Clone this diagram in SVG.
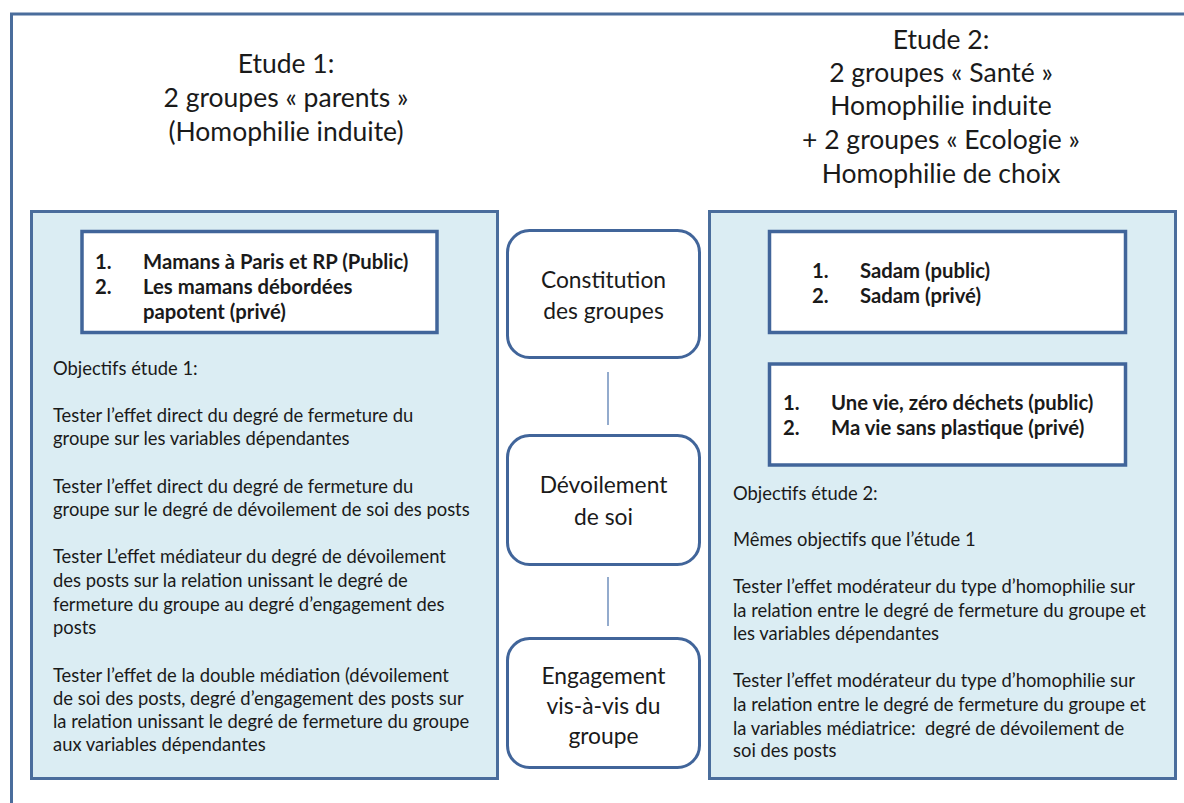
<svg xmlns="http://www.w3.org/2000/svg" width="1184" height="803" viewBox="0 0 1184 803">
<style>
.frame{fill:none;stroke:#4a6d9c;stroke-width:3}
.panel{fill:#dbedf3;stroke:#4a6d9c;stroke-width:3}
.box{fill:#ffffff;stroke:#41659a;stroke-width:3.5}
.step{fill:#ffffff;stroke:#41659a;stroke-width:3}
.conn{stroke:#6f8fbc;stroke-width:1.5}
text{font-family:Lato,"Liberation Sans",sans-serif;fill:#1a1a1a}
.title{font-size:26.5px;text-anchor:middle}
.bold{font-size:20.3px;font-weight:bold}
.body{font-size:18.4px}
.mid{font-size:22.8px;text-anchor:middle}
</style>
<rect width="1184" height="803" fill="#ffffff"/>
<path class="frame" d="M11.5,810 V14 H1190"/>
<g id="title1">
<text class="title" x="286" y="73">Etude 1:</text>
<text class="title" x="286" y="107">2 groupes « parents »</text>
<text class="title" x="286" y="140.5">(Homophilie induite)</text>
</g>
<g id="title2">
<text class="title" x="941" y="49">Etude 2:</text>
<text class="title" x="941" y="82">2 groupes « Santé »</text>
<text class="title" x="941" y="115">Homophilie induite</text>
<text class="title" x="941" y="148.5">+ 2 groupes « Ecologie »</text>
<text class="title" x="941" y="182.5">Homophilie de choix</text>
</g>
<g id="panel1">
<rect class="panel" x="31.5" y="211.5" width="466" height="567"/>
<g id="groups1">
<rect class="box" x="82" y="231.5" width="355" height="101"/>
<text class="bold" x="95" y="268.5">1.</text>
<text class="bold" x="143" y="268.5">Mamans à Paris et RP (Public)</text>
<text class="bold" x="95" y="293.5">2.</text>
<text class="bold" x="143" y="293.5">Les mamans débordées</text>
<text class="bold" x="143" y="318.5">papotent (privé)</text>
</g>
<g id="obj1">
<text class="body" x="53" y="375">Objectifs étude 1:</text>
<text class="body" x="53" y="421.5">Tester l’effet direct du degré de fermeture du</text>
<text class="body" x="53" y="445">groupe sur les variables dépendantes</text>
<text class="body" x="53" y="492.5">Tester l’effet direct du degré de fermeture du</text>
<text class="body" x="53" y="516">groupe sur le degré de dévoilement de soi des posts</text>
<text class="body" x="53" y="563">Tester L’effet médiateur du degré de dévoilement</text>
<text class="body" x="53" y="586.5">des posts sur la relation unissant le degré de</text>
<text class="body" x="53" y="610.5">fermeture du groupe au degré d’engagement des</text>
<text class="body" x="53" y="633.5">posts</text>
<text class="body" x="53" y="681.5">Tester l’effet de la double médiation (dévoilement</text>
<text class="body" x="53" y="704.5">de soi des posts, degré d’engagement des posts sur</text>
<text class="body" x="53" y="728">la relation unissant le degré de fermeture du groupe</text>
<text class="body" x="53" y="751">aux variables dépendantes</text>
</g>
</g>
<g id="panel2">
<rect class="panel" x="709.5" y="211.5" width="466" height="567"/>
<g id="groups2a">
<rect class="box" x="769.5" y="231.5" width="356" height="101"/>
<text class="bold" x="812" y="277.5">1.</text>
<text class="bold" x="860" y="277.5">Sadam (public)</text>
<text class="bold" x="812" y="302.5">2.</text>
<text class="bold" x="860" y="302.5">Sadam (privé)</text>
</g>
<g id="groups2b">
<rect class="box" x="769.5" y="364" width="356" height="101"/>
<text class="bold" x="783" y="410">1.</text>
<text class="bold" x="831" y="410">Une vie, zéro déchets (public)</text>
<text class="bold" x="783" y="435">2.</text>
<text class="bold" x="831" y="435">Ma vie sans plastique (privé)</text>
</g>
<g id="obj2">
<text class="body" x="733" y="500">Objectifs étude 2:</text>
<text class="body" x="733" y="546">Mêmes objectifs que l’étude 1</text>
<text class="body" x="733" y="593">Tester l’effet modérateur du type d’homophilie sur</text>
<text class="body" x="733" y="616.5">la relation entre le degré de fermeture du groupe et</text>
<text class="body" x="733" y="640">les variables dépendantes</text>
<text class="body" x="733" y="687">Tester l’effet modérateur du type d’homophilie sur</text>
<text class="body" x="733" y="710.5">la relation entre le degré de fermeture du groupe et</text>
<text class="body" x="733" y="734.5">la variables médiatrice:&#160; degré de dévoilement de</text>
<text class="body" x="733" y="757">soi des posts</text>
</g>
</g>
<g id="connectors">
<line class="conn" x1="608" y1="372" x2="608" y2="425"/>
<line class="conn" x1="608" y1="577" x2="608" y2="626"/>
</g>
<g id="step1">
<rect class="step" x="507.5" y="230.5" width="192" height="127" rx="22"/>
<text class="mid" x="603.5" y="288">Constitution</text>
<text class="mid" x="603.5" y="319">des groupes</text>
</g>
<g id="step2">
<rect class="step" x="507.5" y="435.5" width="192" height="129" rx="22"/>
<text class="mid" x="603.5" y="493">Dévoilement</text>
<text class="mid" x="603.5" y="525">de soi</text>
</g>
<g id="step3">
<rect class="step" x="507.5" y="638.5" width="192" height="129" rx="22"/>
<text class="mid" x="603.5" y="684">Engagement</text>
<text class="mid" x="603.5" y="714">vis-à-vis du</text>
<text class="mid" x="603.5" y="744">groupe</text>
</g>
</svg>
